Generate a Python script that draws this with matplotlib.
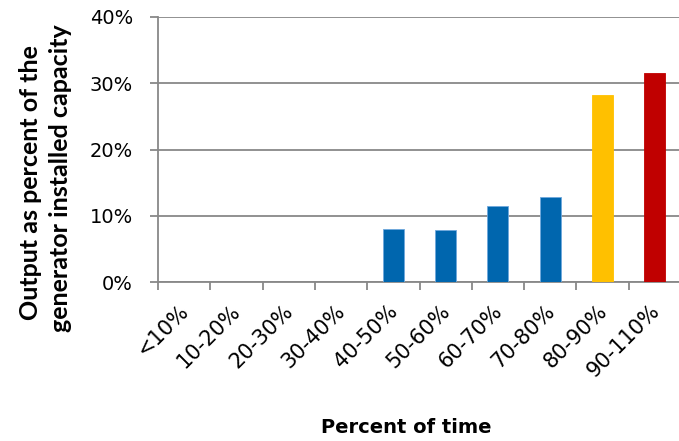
import matplotlib
matplotlib.use("Agg")
import matplotlib.pyplot as plt
from matplotlib.ticker import FuncFormatter

categories = ["<10%", "10-20%", "20-30%", "30-40%", "40-50%", "50-60%",
              "60-70%", "70-80%", "80-90%", "90-110%"]
output_pct = [0, 0, 0, 0, 8.0, 7.9, 11.4, 12.8, 28.2, 31.5]
bar_colors = ["#0066AE"] * 8 + ["#FFC000", "#C00000"]
y_ticks = [0, 10, 20, 30, 40]

W, H = 679, 441
plt.rcParams["font.family"] = ["DejaVu Sans"]

fig = plt.figure(figsize=(W / 100, H / 100), dpi=100)
ax = fig.add_axes([158 / W, 1 - 282 / H, 523 / W, 265 / H])

x = list(range(len(categories)))
for xi, v, c in zip(x, output_pct, bar_colors):
    if v > 0:
        ec = "#6FA8DC" if c == "#0066AE" else c
        ax.bar(xi, v, width=0.4, color=c, edgecolor=ec, linewidth=0.6, zorder=3)

ax.set_xlim(-0.5, len(categories) - 0.5)
ax.set_ylim(0, 40)
ax.set_yticks(y_ticks)
ax.yaxis.set_major_formatter(FuncFormatter(lambda v, p: f"{int(v)}%"))
ax.grid(axis="y", color="#888888", linewidth=1.3, zorder=0)
ax.set_axisbelow(True)

for s in ["top", "right"]:
    ax.spines[s].set_visible(False)
for s in ["left", "bottom"]:
    ax.spines[s].set_color("#888888")
    ax.spines[s].set_linewidth(1.3)

# tick marks sit on category boundaries
ax.set_xticks([i + 0.5 for i in range(-1, len(categories))])
ax.set_xticklabels([])
ax.tick_params(axis="x", length=6, width=1.3, color="#888888")
ax.tick_params(axis="y", length=6, width=1.3, color="#888888",
               labelsize=14, pad=12)

for xi, lab in zip(x, categories):
    ax.annotate(lab, xy=(xi, 0), xycoords=("data", "axes fraction"),
                xytext=(-4.2, -13.6), textcoords="offset points",
                rotation=45, ha="right", va="top", rotation_mode="anchor",
                fontsize=15)

# two-line vertical axis title
ylab_font = dict(family=["Lato", "DejaVu Sans"], fontsize=18, fontweight="bold",
                 rotation=90, rotation_mode="anchor", ha="center", va="baseline")
fig.text(38 / W, 1 - 182.5 / H, "Output as percent of the", **ylab_font)
fig.text(68 / W, 1 - 178.5 / H, "generator installed capacity", **ylab_font)

fig.text(406 / W, 1 - 433 / H, "Percent of time", ha="center", va="baseline",
         fontsize=14, fontweight="bold")

fig.savefig("out.png", dpi=100)
